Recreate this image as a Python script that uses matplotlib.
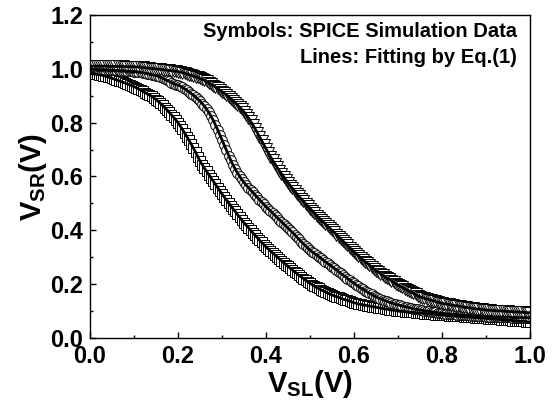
import numpy as np
import matplotlib
matplotlib.use("Agg")
import matplotlib.pyplot as plt

plt.rcParams['font.family'] = ['Liberation Sans', 'DejaVu Sans']
plt.rcParams['font.weight'] = 'bold'
plt.rcParams['mathtext.fontset'] = 'custom'
plt.rcParams['mathtext.rm'] = 'Liberation Sans:bold'
plt.rcParams['mathtext.it'] = 'Liberation Sans:bold'
plt.rcParams['mathtext.bf'] = 'Liberation Sans:bold'

# V_SL sweep, 5 mV steps (201 points)
vsl = np.linspace(0.0, 1.0, 201)

vsr_square = [
    0.983, 0.982, 0.981, 0.980, 0.978, 0.977, 0.975, 0.973, 0.970, 0.968,
    0.965, 0.962, 0.959, 0.956, 0.953, 0.950, 0.947, 0.944, 0.941, 0.938,
    0.934, 0.930, 0.926, 0.921, 0.917, 0.912, 0.907, 0.903, 0.898, 0.892,
    0.886, 0.879, 0.872, 0.864, 0.856, 0.847, 0.838, 0.829, 0.820, 0.810,
    0.800, 0.788, 0.775, 0.762, 0.748, 0.734, 0.720, 0.705, 0.690, 0.673,
    0.657, 0.644, 0.631, 0.619, 0.607, 0.595, 0.583, 0.571, 0.559, 0.547,
    0.535, 0.524, 0.513, 0.502, 0.491, 0.480, 0.470, 0.459, 0.449, 0.438,
    0.428, 0.419, 0.410, 0.400, 0.391, 0.382, 0.373, 0.364, 0.355, 0.347,
    0.338, 0.331, 0.323, 0.316, 0.309, 0.302, 0.294, 0.287, 0.280, 0.273,
    0.266, 0.259, 0.253, 0.246, 0.240, 0.233, 0.227, 0.221, 0.215, 0.209,
    0.203, 0.198, 0.193, 0.188, 0.184, 0.179, 0.175, 0.171, 0.167, 0.164,
    0.160, 0.157, 0.154, 0.151, 0.148, 0.145, 0.142, 0.140, 0.137, 0.134,
    0.131, 0.129, 0.127, 0.125, 0.123, 0.122, 0.120, 0.119, 0.117, 0.116,
    0.114, 0.113, 0.111, 0.110, 0.108, 0.107, 0.105, 0.104, 0.103, 0.101,
    0.100, 0.099, 0.099, 0.098, 0.097, 0.096, 0.096, 0.095, 0.094, 0.093,
    0.093, 0.092, 0.091, 0.090, 0.090, 0.089, 0.088, 0.087, 0.087, 0.086,
    0.085, 0.084, 0.084, 0.083, 0.083, 0.082, 0.081, 0.081, 0.080, 0.080,
    0.079, 0.078, 0.078, 0.077, 0.077, 0.076, 0.075, 0.075, 0.074, 0.074,
    0.073, 0.072, 0.072, 0.071, 0.070, 0.070, 0.069, 0.068, 0.068, 0.067,
    0.066, 0.066, 0.065, 0.064, 0.064, 0.063, 0.062, 0.062, 0.061, 0.060,
    0.060,
]

vsr_circle = [
    0.998, 0.998, 0.998, 0.998, 0.997, 0.997, 0.997, 0.997, 0.996, 0.996,
    0.995, 0.995, 0.994, 0.994, 0.993, 0.993, 0.992, 0.992, 0.991, 0.991,
    0.990, 0.989, 0.988, 0.987, 0.985, 0.984, 0.982, 0.980, 0.978, 0.977,
    0.975, 0.972, 0.968, 0.965, 0.961, 0.957, 0.953, 0.949, 0.945, 0.941,
    0.940, 0.936, 0.931, 0.926, 0.920, 0.914, 0.908, 0.902, 0.895, 0.888,
    0.880, 0.871, 0.861, 0.850, 0.838, 0.824, 0.809, 0.792, 0.774, 0.755,
    0.735, 0.716, 0.697, 0.678, 0.660, 0.643, 0.628, 0.614, 0.601, 0.589,
    0.578, 0.568, 0.559, 0.550, 0.541, 0.532, 0.523, 0.514, 0.505, 0.497,
    0.488, 0.480, 0.472, 0.464, 0.456, 0.448, 0.440, 0.432, 0.424, 0.416,
    0.408, 0.400, 0.392, 0.384, 0.375, 0.367, 0.358, 0.350, 0.342, 0.334,
    0.326, 0.320, 0.314, 0.308, 0.302, 0.296, 0.289, 0.283, 0.277, 0.271,
    0.265, 0.259, 0.253, 0.246, 0.240, 0.234, 0.228, 0.221, 0.215, 0.209,
    0.203, 0.197, 0.192, 0.186, 0.181, 0.176, 0.171, 0.166, 0.162, 0.157,
    0.153, 0.149, 0.146, 0.142, 0.139, 0.136, 0.133, 0.130, 0.128, 0.125,
    0.123, 0.121, 0.119, 0.117, 0.115, 0.113, 0.111, 0.109, 0.107, 0.106,
    0.104, 0.103, 0.101, 0.100, 0.099, 0.098, 0.097, 0.095, 0.094, 0.093,
    0.092, 0.091, 0.090, 0.090, 0.089, 0.088, 0.088, 0.087, 0.086, 0.086,
    0.085, 0.084, 0.084, 0.083, 0.082, 0.082, 0.081, 0.081, 0.080, 0.080,
    0.079, 0.079, 0.079, 0.078, 0.078, 0.078, 0.078, 0.077, 0.077, 0.077,
    0.077, 0.077, 0.076, 0.076, 0.076, 0.076, 0.076, 0.075, 0.075, 0.075,
    0.075,
]

vsr_triangle = [
    1.010, 1.010, 1.010, 1.010, 1.010, 1.010, 1.010, 1.010, 1.010, 1.009,
    1.009, 1.009, 1.009, 1.009, 1.009, 1.009, 1.008, 1.008, 1.008, 1.008,
    1.008, 1.007, 1.007, 1.006, 1.005, 1.004, 1.003, 1.002, 1.001, 1.001,
    1.000, 0.999, 0.998, 0.997, 0.996, 0.995, 0.994, 0.993, 0.992, 0.991,
    0.990, 0.988, 0.986, 0.983, 0.981, 0.978, 0.976, 0.973, 0.970, 0.968,
    0.965, 0.961, 0.957, 0.953, 0.948, 0.943, 0.938, 0.932, 0.927, 0.921,
    0.915, 0.909, 0.903, 0.896, 0.889, 0.882, 0.874, 0.866, 0.858, 0.849,
    0.840, 0.829, 0.818, 0.805, 0.792, 0.778, 0.763, 0.748, 0.733, 0.718,
    0.703, 0.688, 0.674, 0.660, 0.647, 0.634, 0.622, 0.610, 0.599, 0.588,
    0.577, 0.566, 0.556, 0.546, 0.536, 0.526, 0.517, 0.508, 0.499, 0.490,
    0.481, 0.472, 0.464, 0.455, 0.447, 0.439, 0.431, 0.423, 0.415, 0.408,
    0.400, 0.392, 0.384, 0.376, 0.368, 0.360, 0.352, 0.344, 0.336, 0.328,
    0.320, 0.313, 0.305, 0.298, 0.291, 0.284, 0.278, 0.271, 0.264, 0.257,
    0.250, 0.245, 0.239, 0.234, 0.228, 0.223, 0.218, 0.213, 0.207, 0.202,
    0.197, 0.192, 0.188, 0.183, 0.179, 0.175, 0.170, 0.166, 0.162, 0.157,
    0.153, 0.150, 0.148, 0.145, 0.143, 0.141, 0.138, 0.136, 0.133, 0.131,
    0.129, 0.127, 0.126, 0.125, 0.123, 0.122, 0.120, 0.119, 0.118, 0.116,
    0.115, 0.114, 0.112, 0.111, 0.110, 0.109, 0.108, 0.107, 0.106, 0.105,
    0.104, 0.103, 0.103, 0.102, 0.102, 0.101, 0.101, 0.100, 0.100, 0.099,
    0.099, 0.098, 0.098, 0.097, 0.097, 0.096, 0.096, 0.095, 0.095, 0.094,
    0.094,
]

fig = plt.figure(figsize=(5.59, 4.04), dpi=100)
ax = fig.add_axes([90 / 559, 1 - 338 / 404, 440 / 559, 323 / 404])

series = [
    (vsr_square, 's', 6.5),
    (vsr_circle, 'o', 7.0),
    (vsr_triangle, 'v', 8.0),
]
for vals, mk, ms in series:
    ax.plot(vsl, vals, linestyle='none', marker=mk, markersize=ms,
            markerfacecolor='white', markeredgecolor='black',
            markeredgewidth=0.7)
for vals, mk, ms in series:
    ax.plot(vsl, vals, color='black', linewidth=2.0)

ax.set_xlim(0, 1.0)
ax.set_ylim(0, 1.2)
ax.set_xticks(np.arange(0, 1.01, 0.2))
ax.set_yticks(np.arange(0, 1.21, 0.2))
ax.set_xticks(np.arange(0.1, 1.0, 0.2), minor=True)
ax.set_yticks(np.arange(0.1, 1.2, 0.2), minor=True)
ax.xaxis.set_major_formatter(matplotlib.ticker.FormatStrFormatter('%.1f'))
ax.yaxis.set_major_formatter(matplotlib.ticker.FormatStrFormatter('%.1f'))
ax.tick_params(which='both', direction='in', top=False, right=False,
               width=1.0, labelsize=17)
ax.tick_params(which='major', length=4.5)
ax.tick_params(which='minor', length=2.5)
ax.tick_params(axis='x', pad=5)
ax.tick_params(axis='y', pad=5)
for sp in ax.spines.values():
    sp.set_linewidth(1.0)

ax.set_xlabel(r'$\mathregular{V_{SL}}$(V)', fontsize=21, fontweight='bold', labelpad=0)
ax.set_ylabel(r'$\mathregular{V_{SR}}$(V)', fontsize=21, fontweight='bold', labelpad=1)

ax.text(0.97, 0.95, 'Symbols: SPICE Simulation Data', transform=ax.transAxes,
        ha='right', va='center', fontsize=14.5, fontweight='bold')
ax.text(0.97, 0.867, 'Lines: Fitting by Eq.(1)', transform=ax.transAxes,
        ha='right', va='center', fontsize=14.5, fontweight='bold')

fig.savefig('out.png', dpi=100)
